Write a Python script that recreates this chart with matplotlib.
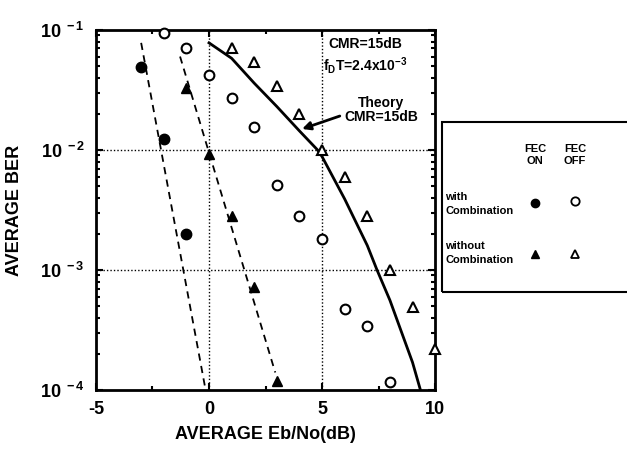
import numpy as np
import matplotlib
matplotlib.use("Agg")
import matplotlib.pyplot as plt
from matplotlib.patches import Rectangle
from matplotlib.ticker import FixedLocator, LogLocator, NullFormatter

plt.rcParams['font.family'] = ['Liberation Sans', 'DejaVu Sans']
plt.rcParams['font.weight'] = 'bold'
plt.rcParams['mathtext.fontset'] = 'custom'
plt.rcParams['mathtext.rm'] = 'Liberation Sans:bold'
plt.rcParams['mathtext.it'] = 'Liberation Sans:bold'
plt.rcParams['mathtext.bf'] = 'Liberation Sans:bold'

##############################
# Donnees

# with combination, FEC ON (filled circles)
x_comb_on = [-3, -2, -1]
y_comb_on = [0.049, 0.0123, 0.002]

# without combination, FEC ON (filled triangles)
x_nocomb_on = [-1, 0, 1, 2, 3]
y_nocomb_on = [0.033, 0.0093, 0.0028, 0.00072, 0.000118]

# with combination, FEC OFF (open circles)
x_comb_off = [-2, -1, 0, 1, 2, 3, 4, 5, 6, 7, 8]
y_comb_off = [0.094, 0.071, 0.042, 0.027, 0.0156, 0.0051, 0.0028, 0.0018,
              0.00047, 0.00034, 0.000117]

# without combination, FEC OFF (open triangles)
x_nocomb_off = [1, 2, 3, 4, 5, 6, 7, 8, 9, 10]
y_nocomb_off = [0.071, 0.054, 0.034, 0.020, 0.010, 0.0059, 0.0028, 0.001,
                0.00049, 0.00022]

# theory CMR=15dB
x_theory = [0, 1, 2, 3, 4, 4.8, 5, 6, 7, 7.43, 8, 9, 9.35]
y_theory = [0.078, 0.058, 0.036, 0.023, 0.0144, 0.0100, 0.0088, 0.0039,
            0.0016, 0.001, 0.00056, 0.00017, 0.0001]

# dashed fits
x_fit_comb = [-3.0, -0.15]
y_fit_comb = [0.078, 0.0001]
x_fit_nocomb = [-1.28, 2.93]
y_fit_nocomb = [0.06, 0.00014]

xticks = [-5, 0, 5, 10]
yticks = [1e-4, 1e-3, 1e-2, 1e-1]
ytick_labels = [r'$10^{\ -4}$', r'$10^{\ -3}$', r'$10^{\ -2}$', r'$10^{\ -1}$']

##############################
# Trace

fig = plt.figure(figsize=(6.27, 4.53), dpi=100)
ax = fig.add_axes([0.153, 0.139, 0.541, 0.795])
ax.set_yscale('log')
ax.set_xlim(-5, 10)
ax.set_ylim(1e-4, 1e-1)

# grille pointillee
for xv in [0, 5]:
    ax.axvline(xv, color='black', linestyle=(0, (1, 1.5)), linewidth=1.0, zorder=1)
for yv in [1e-2, 1e-3]:
    ax.axhline(yv, color='black', linestyle=(0, (1, 1.5)), linewidth=1.0, zorder=1)

ax.plot(x_fit_comb, y_fit_comb, color='black', linestyle=(0, (4, 3)), linewidth=1.3)
ax.plot(x_fit_nocomb, y_fit_nocomb, color='black', linestyle=(0, (4, 3)), linewidth=1.3)
ax.plot(x_theory, y_theory, color='black', linewidth=2.0)

ax.plot(x_comb_on, y_comb_on, 'o', color='black', markersize=7.5, clip_on=False, zorder=5)
ax.plot(x_nocomb_on, y_nocomb_on, '^', color='black', markersize=6.5, clip_on=False, zorder=5)
ax.plot(x_comb_off, y_comb_off, 'o', markerfacecolor='white', markeredgecolor='black',
        markeredgewidth=1.5, markersize=7, clip_on=False, zorder=5)
ax.plot(x_nocomb_off, y_nocomb_off, '^', markerfacecolor='white', markeredgecolor='black',
        markeredgewidth=1.5, markersize=6.5, clip_on=False, zorder=5)

ax.set_xticks(xticks)
ax.set_xticklabels([str(v) for v in xticks], fontsize=13, fontweight='bold')
ax.set_yticks(yticks)
ax.set_yticklabels(ytick_labels, fontsize=13)
ax.yaxis.set_minor_locator(LogLocator(base=10, subs=np.arange(2, 10)))
ax.yaxis.set_minor_formatter(NullFormatter())
ax.xaxis.set_minor_locator(FixedLocator(np.arange(-5, 10.1, 2.5)))
ax.tick_params(which='both', direction='in', top=True, right=True)
ax.tick_params(which='major', length=5, width=1.5, pad=8)
ax.tick_params(which='minor', length=3, width=1.5)
for s in ax.spines.values():
    s.set_linewidth(2.0)

ax.set_xlabel('AVERAGE Eb/No(dB)', fontsize=13, fontweight='bold', labelpad=6)
ax.set_ylabel('AVERAGE BER', fontsize=13, fontweight='bold', labelpad=12)

# annotations
ax.text(6.9, 0.076, 'CMR=15dB', fontsize=10, fontweight='bold', ha='center', va='center')
ax.text(6.9, 0.051, r'f$_{\rm D}$T=2.4x10$^{-3}$', fontsize=10, fontweight='bold',
        ha='center', va='center')
ax.text(7.6, 0.0215, 'Theory\nCMR=15dB', fontsize=10, fontweight='bold',
        ha='center', va='center', linespacing=0.95)
ax.annotate('', xy=(4.0, 0.0147), xytext=(5.9, 0.0195),
            arrowprops=dict(arrowstyle='-|>', color='black', lw=2.0, mutation_scale=12))

# legende (boite a droite)
fig.patches.append(Rectangle((442 / 627, 1 - 292 / 453), 0.32, 170 / 453,
                             transform=fig.transFigure, fill=False,
                             edgecolor='black', linewidth=1.5, clip_on=False))
fig.text(535 / 627, 1 - 155 / 453, 'FEC\nON', fontsize=8, fontweight='bold',
         ha='center', va='center', linespacing=1.3)
fig.text(575 / 627, 1 - 155 / 453, 'FEC\nOFF', fontsize=8, fontweight='bold',
         ha='center', va='center', linespacing=1.3)
fig.text(445 / 627, 1 - 204 / 453, 'with\nCombination', fontsize=8, fontweight='bold',
         ha='left', va='center', linespacing=1.6)
fig.text(445 / 627, 1 - 253 / 453, 'without\nCombination', fontsize=8, fontweight='bold',
         ha='left', va='center', linespacing=1.6)
lax = fig.add_axes([0, 0, 1, 1], facecolor='none')
lax.set_axis_off()
lax.set_xlim(0, 627)
lax.set_ylim(453, 0)
lax.plot([535], [203], 'o', color='black', markersize=6)
lax.plot([575], [201], 'o', markerfacecolor='white', markeredgecolor='black',
         markeredgewidth=1.3, markersize=6)
lax.plot([535], [254], '^', color='black', markersize=6)
lax.plot([575], [254], '^', markerfacecolor='white', markeredgecolor='black',
         markeredgewidth=1.3, markersize=6)

fig.savefig('out.png', dpi=100)
